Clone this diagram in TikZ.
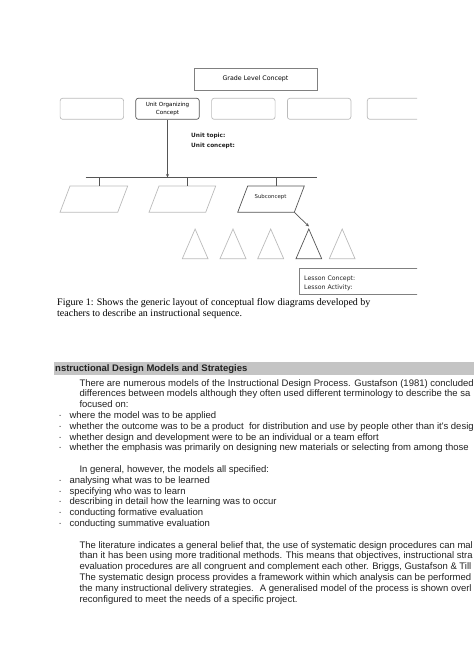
\documentclass[tikz,border=0pt]{standalone}
\usepackage{fontspec}
\usepackage{tikz}
\usetikzlibrary{arrows.meta}
\setmainfont{Liberation Serif}
\newfontfamily\arialfont{Liberation Sans}
\newfontfamily\sketchfont{DejaVu Sans}
\definecolor{lightline}{HTML}{BBBBBB}
\definecolor{darkline}{HTML}{555555}
\definecolor{bandgray}{HTML}{C4C4C4}
\definecolor{inkgray}{HTML}{222222}

\tikzset{
    rowbox/.style={draw=lightline, line width=0.7pt, rounded corners=2.5pt, minimum width=63.5pt, minimum height=21pt, inner sep=1pt, align=center, font=\sketchfont\fontsize{5.6}{8}\selectfont},
    topbox/.style={draw=gray, line width=0.7pt, minimum width=123pt, minimum height=22pt, inner sep=1pt, font=\sketchfont\fontsize{6.3}{8}\selectfont},
    para/.style={draw=lightline, line width=0.7pt},
    tri/.style={draw=lightline, line width=0.7pt},
    conn/.style={draw=darkline, line width=0.7pt},
    arr/.style={conn, -{Stealth[length=3.5pt, width=3pt]}},
    sketchtext/.style={inner sep=0pt, anchor=base west, text=inkgray, font=\sketchfont\fontsize{6.2}{8}\selectfont},
    bodytext/.style={inner sep=0pt, anchor=base west, text=inkgray, font=\arialfont\fontsize{9.5}{11}\selectfont},
    capttext/.style={inner sep=0pt, anchor=base west, font=\fontsize{10}{11.5}\selectfont}
}

\begin{document}
\begin{tikzpicture}[x=1pt, y=-1pt]
        \useasboundingbox (0,0) rectangle (474,670);
        \clip (0,0) rectangle (474,670);

        % concept boxes
            \node[topbox] (grade) at (255.5,79) {Grade Level Concept};
            \node[rowbox] (box1) at (91.85,108.8) {};
            \node[rowbox, draw=darkline] (unitorg) at (167.5,108.8) {Unit Organizing\\Concept};
            \node[rowbox] (box3) at (243.35,108.8) {};
            \node[rowbox] (box4) at (319.15,108.8) {};
            \node[sketchtext, font=\sketchfont\bfseries\fontsize{5.8}{8}\selectfont] (topic) at (191,137.5) {Unit topic:};
            \node[sketchtext, font=\sketchfont\bfseries\fontsize{5.8}{8}\selectfont] (uconcept) at (191,147.5) {Unit concept:};

        % bus and subconcepts
            \coordinate (busL) at (85.7,177.5);
            \coordinate (busR) at (317,177.5);
            \draw[conn] (busL) -- (busR);
            \draw[arr] (unitorg.south) -- (unitorg.south |- busL);
            \draw[para] (60,212.3) -- (117.7,212.3) -- (127.7,186) -- (70,186) -- cycle;
            \draw[para] (149,212.3) -- (205.7,212.3) -- (215.7,186) -- (159,186) -- cycle;
            \draw[para, draw=darkline] (237.7,212.3) -- (294.3,212.3) -- (304.3,186) -- (247.7,186) -- cycle;
            \coordinate (sub1top) at (98.85,186);
            \coordinate (sub2top) at (187.35,186);
            \coordinate (subctop) at (276,186);
            \coordinate (subccorner) at (294.3,212.3);
            \node[inner sep=0pt, text=inkgray, font=\sketchfont\fontsize{5.4}{7}\selectfont] (subc) at (270.5,197.5) {Subconcept};
            \draw[conn] (sub1top |- busL) -- (sub1top);
            \draw[conn] (sub2top |- busL) -- (sub2top);
            \draw[conn] (subctop |- busL) -- (subctop);

        % lessons
            \draw[tri] (182.3,258.7) -- (195.1,229) -- (208,258.7) -- cycle;
            \draw[tri] (220,258.7) -- (233,229) -- (246,258.7) -- cycle;
            \draw[tri] (257.7,258.7) -- (270.7,229) -- (283.7,258.7) -- cycle;
            \draw[tri, draw=darkline] (296,258.7) -- (308.8,229) -- (321.7,258.7) -- cycle;
            \draw[tri] (329.3,258.7) -- (342.2,229) -- (355,258.7) -- cycle;
            \coordinate (lessontop) at (309,226.5);
            \draw[arr] (subccorner) -- (lessontop);

        % cut off at the right edge of the figure
        \begin{scope}
            \clip (0,60) rectangle (417,300);
            \node[rowbox] (box5) at (399.05,108.8) {};
            \draw[draw=gray, line width=0.7pt] (430,268.3) -| (299.3,294) -- (430,294);
            \node[sketchtext] (lconcept) at (304,280) {Lesson Concept:};
            \node[sketchtext] (lactivity) at (304,289.5) {Lesson Activity:};
        \end{scope}

        % caption
            \node[capttext] (capt1) at (57,305) {Figure 1: Shows the generic layout of conceptual flow diagrams developed by};
            \node[capttext] (capt2) at (57,316.5) {teachers to describe an instructional sequence.};

        % section heading
            \fill[bandgray] (54,362) rectangle (474,374.5);
            \node[bodytext, font=\arialfont\bfseries\fontsize{9.5}{11}\selectfont] (heading) at (55,371.3) {nstructional Design Models and Strategies};

        % first paragraph and list
            \node[bodytext] (pa1) at (79.3,386) {There are numerous models of the Instructional Design Process. Gustafson (1981) concluded};
            \node[bodytext] (pa2) at (79.3,396.8) {differences between models although they often used different terminology to describe the sa};
            \node[bodytext] (pa3) at (79.3,407.6) {focused on:};
            \node[bodytext] (da1) at (58.5,418.4) {·};
            \node[bodytext] (la1) at (69.3,418.4) {where the model was to be applied};
            \node[bodytext] (da2) at (58.5,429.2) {·};
            \node[bodytext] (la2) at (69.3,429.2) {whether the outcome was to be a product \ for distribution and use by people other than it's desig};
            \node[bodytext] (da3) at (58.5,440) {·};
            \node[bodytext] (la3) at (69.3,440) {whether design and development were to be an individual or a team effort};
            \node[bodytext] (da4) at (58.5,450.8) {·};
            \node[bodytext] (la4) at (69.3,450.8) {whether the emphasis was primarily on designing new materials or selecting from among those};

        % second list
            \node[bodytext] (pb1) at (79.3,472.4) {In general, however, the models all specified:};
            \node[bodytext] (db1) at (58.5,483.2) {·};
            \node[bodytext] (lb1) at (69.3,483.2) {analysing what was to be learned};
            \node[bodytext] (db2) at (58.5,494) {·};
            \node[bodytext] (lb2) at (69.3,494) {specifying who was to learn};
            \node[bodytext] (db3) at (58.5,504.8) {·};
            \node[bodytext] (lb3) at (69.3,504.8) {describing in detail how the learning was to occur};
            \node[bodytext] (db4) at (58.5,515.6) {·};
            \node[bodytext] (lb4) at (69.3,515.6) {conducting formative evaluation};
            \node[bodytext] (db5) at (58.5,526.4) {·};
            \node[bodytext] (lb5) at (69.3,526.4) {conducting summative evaluation};

        % last paragraph
            \node[bodytext] (pc1) at (79.3,548) {The literature indicates a general belief that, the use of systematic design procedures can mal};
            \node[bodytext] (pc2) at (79.3,558.8) {than it has been using more traditional methods. This means that objectives, instructional stra};
            \node[bodytext] (pc3) at (79.3,569.6) {evaluation procedures are all congruent and complement each other. Briggs, Gustafson \& Till};
            \node[bodytext] (pc4) at (79.3,580.4) {The systematic design process provides a framework within which analysis can be performed};
            \node[bodytext] (pc5) at (79.3,591.2) {the many instructional delivery strategies. \ A generalised model of the process is shown overl};
            \node[bodytext] (pc6) at (79.3,602) {reconfigured to meet the needs of a specific project.};
\end{tikzpicture}
\end{document}
